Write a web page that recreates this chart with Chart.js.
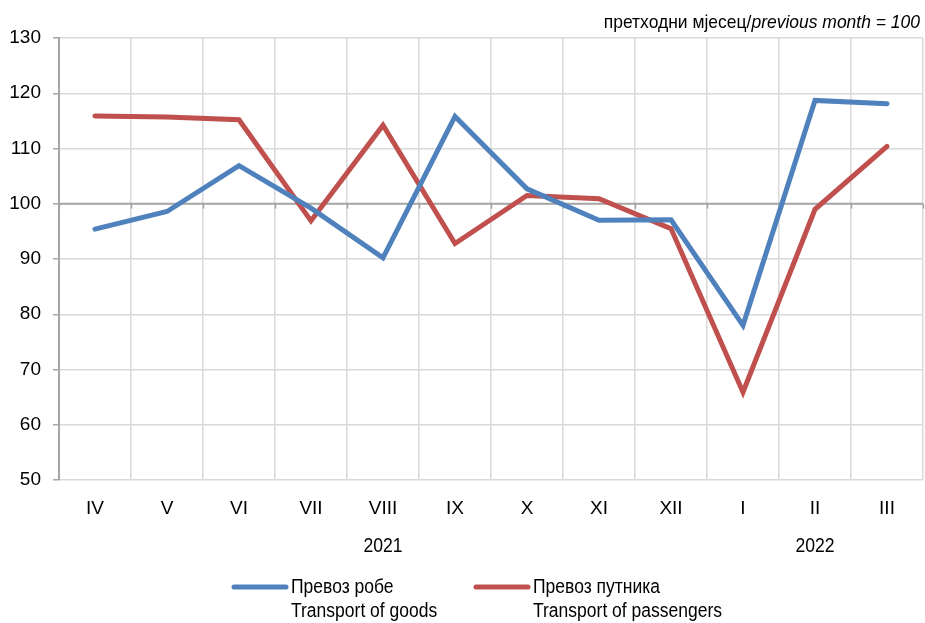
<!DOCTYPE html>
<html>
<head>
<meta charset="utf-8">
<script src="https://cdn.jsdelivr.net/npm/chart.js@4/dist/chart.umd.min.js"></script>
<style>
  html, body { margin: 0; padding: 0; background: #fff; }
  #wrap { width: 925px; height: 623px; position: relative; }
</style>
</head>
<body>
<div id="wrap"><canvas id="chart" width="925" height="623"></canvas></div>
<script>
// ---------- Data ----------
const months = ['IV', 'V', 'VI', 'VII', 'VIII', 'IX', 'X', 'XI', 'XII', 'I', 'II', 'III'];
const goods = [95.4, 98.6, 106.9, 99.2, 90.2, 115.8, 102.7, 97.0, 97.1, 78.0, 118.7, 118.1];
const passengers = [115.9, 115.7, 115.2, 96.9, 114.2, 92.8, 101.5, 100.9, 95.5, 65.9, 99.0, 110.4];
const yearLabels = [
  { text: '2021', from: 0, to: 8 },
  { text: '2022', from: 9, to: 11 }
];
const seriesNames = [
  ['Превоз робе', 'Transport of goods'],
  ['Превоз путника', 'Transport of passengers']
];

const FONT = '"Liberation Sans Narrow", "Arial Narrow", "Liberation Sans", Arial, sans-serif';
const AXIS_GREY = '#a6a6a6';
const GRID_GREY = '#d9d9d9';

// text squeezed horizontally, to get close to the narrow face of the original
function narrowText(ctx, text, x, y, align, sx) {
  const w = ctx.measureText(text).width * sx;
  let left = x;
  if (align === 'center') left = x - w / 2;
  if (align === 'right') left = x - w;
  ctx.save();
  ctx.textAlign = 'left';
  ctx.translate(left, y);
  ctx.scale(sx, 1);
  ctx.fillText(text, 0, 0);
  ctx.restore();
  return w;
}

// ---------- Extra drawing: base line at 100, years, unit note, legend ----------
const extras = {
  id: 'extras',
  beforeDatasetsDraw(chart) {
    const { ctx, chartArea, scales } = chart;
    const y100 = scales.y.getPixelForValue(100);
    ctx.save();
    ctx.strokeStyle = AXIS_GREY;
    ctx.lineWidth = 2;
    ctx.beginPath();
    ctx.moveTo(chartArea.left, y100);
    ctx.lineTo(chartArea.right, y100);
    ctx.stroke();
    // small tick marks at category boundaries
    ctx.lineWidth = 1.5;
    const step = (chartArea.right - chartArea.left) / months.length;
    for (let i = 0; i <= months.length; i++) {
      const x = Math.round(chartArea.left + i * step) + 0.5;
      ctx.beginPath();
      ctx.moveTo(x, y100);
      ctx.lineTo(x, y100 + 5);
      ctx.stroke();
    }
    ctx.restore();
  },
  afterDraw(chart) {
    const { ctx, scales } = chart;
    ctx.save();
    ctx.fillStyle = '#000';
    ctx.textBaseline = 'middle';

    // year labels under month ticks
    ctx.font = '20px ' + FONT;
    yearLabels.forEach(y => {
      const x = (scales.x.getPixelForValue(y.from) + scales.x.getPixelForValue(y.to)) / 2;
      narrowText(ctx, y.text, x, 546, 'center', 0.88);
    });

    // unit note, top right
    const part1 = 'претходни мјесец/';
    const part2 = 'previous month = 100';
    const sx = 0.92;
    ctx.font = 'italic 19px ' + FONT;
    const w2 = ctx.measureText(part2).width * sx;
    narrowText(ctx, part2, 920 - w2, 23, 'left', sx);
    ctx.font = '19px ' + FONT;
    narrowText(ctx, part1, 920 - w2, 23, 'right', sx);

    // legend
    const legendX = [232, 474];
    ctx.font = '20px ' + FONT;
    chart.data.datasets.forEach((ds, i) => {
      const x0 = legendX[i];
      ctx.strokeStyle = ds.borderColor;
      ctx.lineWidth = 5;
      ctx.lineCap = 'round';
      ctx.beginPath();
      ctx.moveTo(x0 + 2, 587);
      ctx.lineTo(x0 + 54, 587);
      ctx.stroke();
      narrowText(ctx, seriesNames[i][0], x0 + 59, 587, 'left', 0.875);
      narrowText(ctx, seriesNames[i][1], x0 + 59, 611, 'left', 0.875);
    });
    ctx.restore();
  }
};

// ---------- Chart ----------
const ctx = document.getElementById('chart').getContext('2d');
new Chart(ctx, {
  type: 'line',
  data: {
    labels: months,
    datasets: [
      {
        label: seriesNames[0].join(' '),
        data: goods,
        borderColor: '#4f81bd',
        borderWidth: 5,
        borderCapStyle: 'round',
        pointRadius: 0,
        tension: 0
      },
      {
        label: seriesNames[1].join(' '),
        data: passengers,
        borderColor: '#c0504d',
        borderWidth: 5,
        borderCapStyle: 'round',
        pointRadius: 0,
        tension: 0
      }
    ]
  },
  options: {
    responsive: false,
    animation: false,
    devicePixelRatio: 1,
    layout: { padding: { top: 38, right: 2, left: 0, bottom: 0 } },
    plugins: {
      legend: { display: false },
      tooltip: { enabled: false }
    },
    scales: {
      x: {
        offset: true,
        grid: { offset: true, color: GRID_GREY, lineWidth: 1.5, drawTicks: false },
        border: { display: false },
        ticks: { color: '#000', font: { family: FONT, size: 19 }, padding: 17, maxRotation: 0, autoSkip: false },
        afterFit(scale) { scale.height = 143; }
      },
      y: {
        min: 50,
        max: 130,
        grid: {
          color: GRID_GREY,
          lineWidth: 1.5,
          tickColor: AXIS_GREY,
          tickLength: 6
        },
        border: { color: AXIS_GREY, width: 2 },
        ticks: { stepSize: 10, color: '#000', font: { family: FONT, size: 19 }, padding: 12 },
        afterFit(scale) { scale.width = 59; }
      }
    }
  },
  plugins: [extras]
});
</script>
</body>
</html>
